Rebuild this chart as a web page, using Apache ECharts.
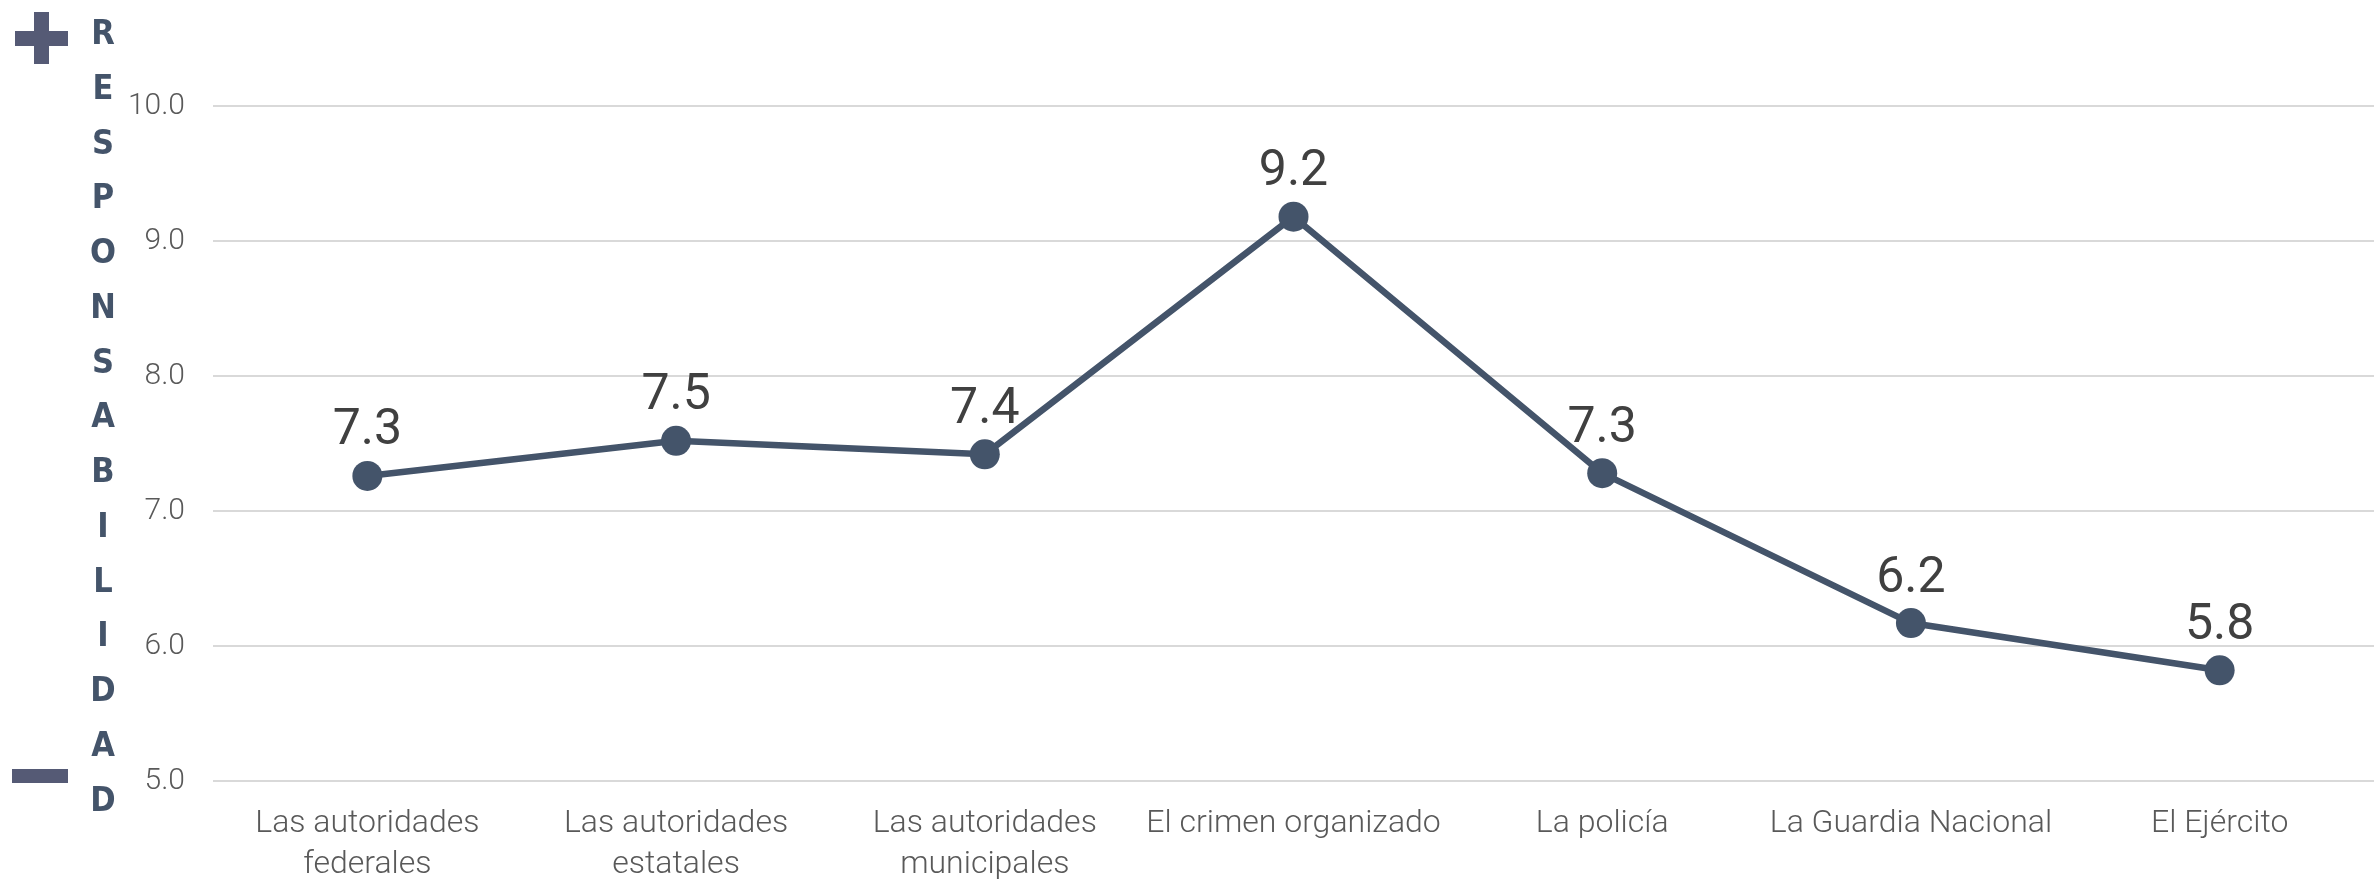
<!DOCTYPE html>
<html>
<head>
<meta charset="utf-8">
<script src="https://cdn.jsdelivr.net/npm/echarts@6/dist/echarts.min.js"></script>
<style>
  html, body { margin: 0; padding: 0; background: #fff; }
  #chart { width: 2379px; height: 880px; }
</style>
</head>
<body>
<div id="chart"></div>
<script>
// 数据
const categories = [
  'Las autoridades\nfederales',
  'Las autoridades\nestatales',
  'Las autoridades\nmunicipales',
  'El crimen organizado',
  'La policía',
  'La Guardia Nacional',
  'El Ejército'
];
const values = [7.26, 7.52, 7.42, 9.18, 7.28, 6.17, 5.82];
const yTicks = { min: 5, max: 10, interval: 1 };
const sideLabel = 'RESPONSABILIDAD';

const LINE = '#44546a';
const MARK = '#555a75';

const chart = echarts.init(document.getElementById('chart'));

// 竖排标题:每个字母一行
const sideText = {
  type: 'text',
  style: {
    x: 103, y: 8,
    text: sideLabel.split('').join('\n'),
    fontFamily: '"Liberation Sans Narrow", "DejaVu Sans Condensed", "DejaVu Sans", sans-serif',
    fontWeight: 'bold',
    fontSize: 34,
    lineHeight: 54.75,
    fill: LINE,
    align: 'center',
    verticalAlign: 'top'
  }
};

chart.setOption({
  animation: false,
  // v6 默认会把轴标签收进容器,这里关掉,网格按像素定死
  grid: { left: 213, right: 5, top: 106, bottom: 99, outerBoundsMode: 'none', containLabel: false },
  xAxis: {
    type: 'category',
    data: categories,
    boundaryGap: true,
    axisLine: { show: false },
    axisTick: { show: false },
    axisLabel: {
      interval: 0,
      color: '#595959', fontSize: 32, fontFamily: 'Roboto', fontWeight: 300,
      lineHeight: 41, margin: 22
    }
  },
  yAxis: {
    type: 'value',
    min: yTicks.min, max: yTicks.max, interval: yTicks.interval,
    axisLine: { show: false },
    axisTick: { show: false },
    axisLabel: {
      color: '#595959', fontSize: 30, fontFamily: 'Roboto', fontWeight: 300,
      margin: 28, formatter: (v) => v.toFixed(1)
    },
    splitLine: { lineStyle: { color: '#d9d9d9', width: 2 } }
  },
  series: [{
    type: 'line',
    data: values,
    symbol: 'circle',
    symbolSize: 30,
    lineStyle: { color: LINE, width: 6.5 },
    itemStyle: { color: LINE },
    label: {
      show: true, position: 'top', distance: 4,
      color: '#404040', fontSize: 50, fontFamily: 'Roboto',
      formatter: (p) => p.value.toFixed(1)
    }
  }],
  graphic: [
    // 加号
    { type: 'rect', shape: { x: 15, y: 31, width: 53, height: 15 }, style: { fill: MARK } },
    { type: 'rect', shape: { x: 34, y: 12, width: 15, height: 52 }, style: { fill: MARK } },
    // 减号
    { type: 'rect', shape: { x: 12, y: 769, width: 56, height: 14 }, style: { fill: MARK } },
    sideText
  ]
});
</script>
</body>
</html>
